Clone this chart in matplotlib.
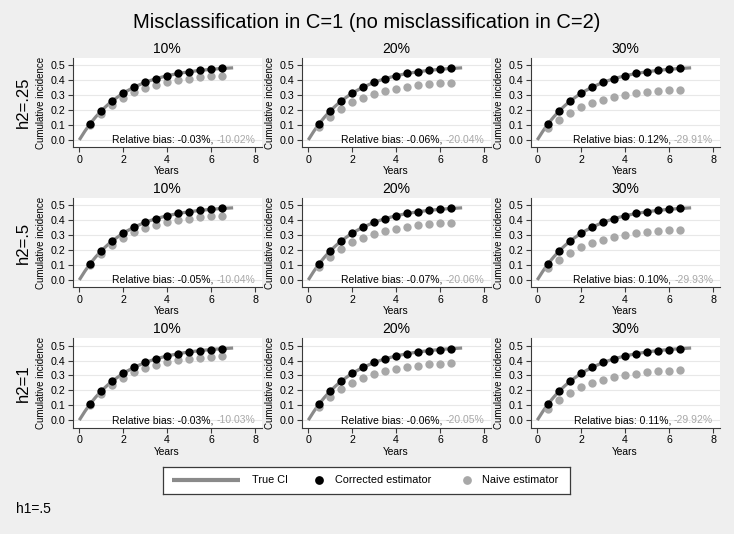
import matplotlib
matplotlib.use("Agg")
import matplotlib.pyplot as plt

plt.rcParams['font.family'] = ['Liberation Sans', 'DejaVu Sans']

title = "Misclassification in C=1 (no misclassification in C=2)"
col_titles = ["10%", "20%", "30%"]
row_labels = ["h2=.25", "h2=.5", "h2=1"]
footnote = "h1=.5"

years = [0.5, 1.0, 1.5, 2.0, 2.5, 3.0, 3.5, 4.0, 4.5, 5.0, 5.5, 6.0, 6.5]
true_t = [0, 0.25, 0.5, 0.75, 1.0, 1.25, 1.5, 2.0, 2.5, 3.0, 3.5, 4.0, 4.5, 5.0, 5.5, 6.0, 6.5, 7.0]
true_ci = [0, 0.058, 0.110, 0.155, 0.195, 0.230, 0.262, 0.315, 0.355, 0.387, 0.412,
           0.431, 0.446, 0.458, 0.467, 0.474, 0.480, 0.484]
corrected = [0.110, 0.195, 0.262, 0.315, 0.355, 0.387, 0.412, 0.431, 0.446, 0.458, 0.467, 0.474, 0.480]
naive_10 = [0.099, 0.176, 0.236, 0.284, 0.320, 0.348, 0.371, 0.388, 0.401, 0.412, 0.420, 0.427, 0.432]
naive_20 = [0.088, 0.156, 0.210, 0.252, 0.284, 0.310, 0.330, 0.345, 0.357, 0.366, 0.374, 0.379, 0.384]
naive_30 = [0.077, 0.137, 0.183, 0.220, 0.249, 0.271, 0.288, 0.302, 0.312, 0.321, 0.327, 0.332, 0.336]
naive = [naive_10, naive_20, naive_30]

bias_corrected = [["-0.03%", "-0.06%", "0.12%"],
                  ["-0.05%", "-0.07%", "0.10%"],
                  ["-0.03%", "-0.06%", "0.11%"]]
bias_naive = [["-10.02%", "-20.04%", "-29.91%"],
              ["-10.04%", "-20.06%", "-29.93%"],
              ["-10.03%", "-20.05%", "-29.92%"]]

legend_labels = ["True CI", "Corrected estimator", "Naive estimator"]

BG = "#efefef"
LINE_C = "#8a8a8a"
NAIVE_C = "#a8a8a8"
SPINE_C = "#3a3a3a"

W, H = 734, 534
fig = plt.figure(figsize=(W / 100, H / 100), dpi=100, facecolor=BG)

col_left = [72.7, 301.7, 530.7]
ax_w = 189.0
row_bottom = [147.4, 287.4, 427.6]
ax_h = 89.4

fig.text(366.5 / W, 1 - 22 / H, title, ha='center', va='center', fontsize=14.5, color='black')

for r in range(3):
    for c in range(3):
        ax = fig.add_axes([col_left[c] / W, (H - row_bottom[r]) / H, ax_w / W, ax_h / H])
        ax.set_facecolor('white')
        ax.set_xlim(-0.3, 8.3)
        ax.set_ylim(-0.05, 0.55)
        ax.set_xticks([0, 2, 4, 6, 8])
        ax.set_yticks([0, 0.1, 0.2, 0.3, 0.4, 0.5])
        ax.set_yticklabels([f"{v:.1f}" for v in [0, 0.1, 0.2, 0.3, 0.4, 0.5]])
        ax.grid(axis='y', color='#e8e8e8', linewidth=0.8)
        ax.set_axisbelow(True)
        for s in ['top', 'right']:
            ax.spines[s].set_visible(False)
        for s in ['left', 'bottom']:
            ax.spines[s].set_color(SPINE_C)
            ax.spines[s].set_linewidth(0.8)
        ax.tick_params(colors=SPINE_C, labelcolor='black', labelsize=7.7, length=3.5,
                       width=0.8, pad=2)
        ax.set_xlabel("Years", fontsize=7.4, labelpad=1)
        ax.set_ylabel("Cumulative incidence", fontsize=7.0, labelpad=3)
        ax.set_title(col_titles[c], fontsize=10, pad=3.5)

        ax.plot(true_t, true_ci, color=LINE_C, linewidth=2.3, solid_capstyle='butt', zorder=2)
        ax.plot(years, naive[c], 'o', color=NAIVE_C, markersize=6.0, markeredgewidth=0, zorder=3)
        ax.plot(years, corrected, 'o', color='black', markersize=6.0, markeredgewidth=0, zorder=4)

        t_gray = ax.text(8.0, 0.0, bias_naive[r][c], ha='right', va='center',
                         fontsize=7.5, color=NAIVE_C, zorder=5)
        ax.annotate(f"Relative bias: {bias_corrected[r][c]}, ", xy=(0, 0.5), xycoords=t_gray,
                    ha='right', va='center', fontsize=7.5, color='black', zorder=5)

        if c == 0:
            yc = row_bottom[r] - ax_h / 2
            fig.text(23 / W, 1 - yc / H, row_labels[r], rotation=90, ha='center', va='center',
                     fontsize=12)

# legend drawn in pixel-space axes
lx0, lx1, ly0, ly1 = 163.3, 570.0, 466.7, 494.0
lax = fig.add_axes([lx0 / W, (H - ly1) / H, (lx1 - lx0) / W, (ly1 - ly0) / H])
lax.set_xlim(lx0, lx1)
lax.set_ylim(ly1, ly0)
lax.set_xticks([])
lax.set_yticks([])
lax.set_facecolor('white')
for s in lax.spines.values():
    s.set_color(SPINE_C)
    s.set_linewidth(0.9)
yc = (ly0 + ly1) / 2
lax.plot([171.7, 240.0], [yc, yc], color=LINE_C, linewidth=3, solid_capstyle='butt')
lax.plot([319.3], [yc], 'o', color='black', markersize=6.3, markeredgewidth=0)
lax.plot([466.7], [yc], 'o', color=NAIVE_C, markersize=6.3, markeredgewidth=0)
for xpos, lab in zip([252, 335, 482], legend_labels):
    lax.text(xpos, yc, lab, ha='left', va='center', fontsize=7.8)

fig.text(16 / W, 1 - 509 / H, footnote, ha='left', va='center', fontsize=10)

fig.savefig("out.png", dpi=100, facecolor=BG)
